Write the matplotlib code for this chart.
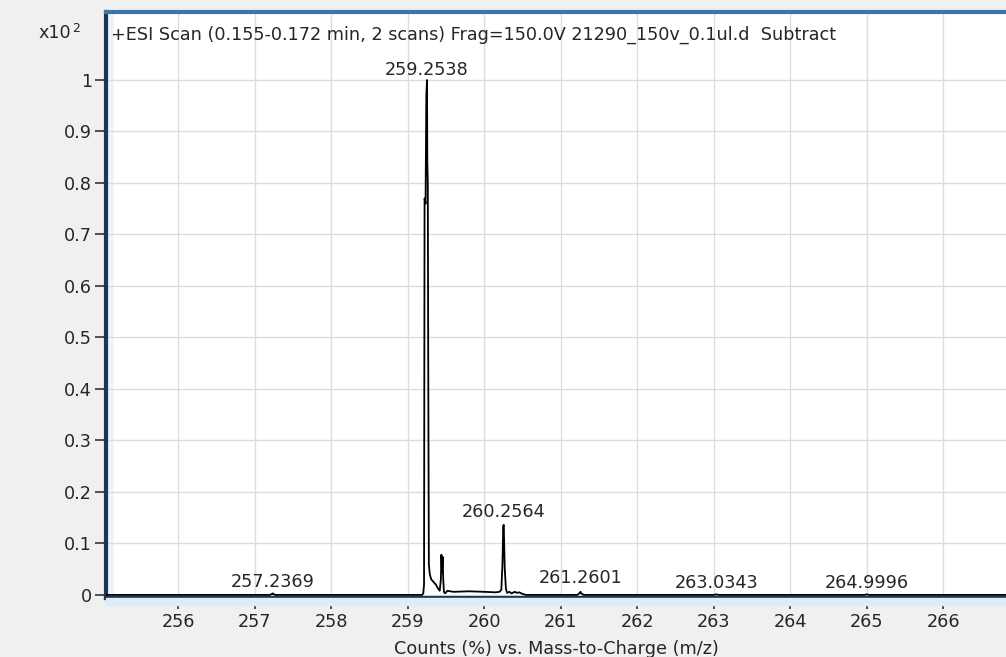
import matplotlib.pyplot as plt
from matplotlib.patches import Rectangle

# profile trace (m/z, counts x10^2 %)
mz = [255.06, 257.20, 257.23, 257.2369, 257.245, 257.27,
      259.19, 259.205, 259.215, 259.222, 259.235, 259.245, 259.2538, 259.258, 259.264, 259.27,
      259.278, 259.29, 259.31, 259.34, 259.37, 259.40, 259.42, 259.435, 259.442, 259.45,
      259.458, 259.466, 259.475, 259.49, 259.52, 259.60, 259.80, 260.00, 260.15, 260.20,
      260.225, 260.24, 260.25, 260.2564, 260.262, 260.27, 260.285, 260.30, 260.33, 260.36,
      260.40, 260.43, 260.46, 260.50, 260.55,
      261.22, 261.25, 261.2601, 261.27, 261.30,
      263.00, 263.0343, 263.07, 264.97, 264.9996, 265.03, 266.84]
counts = [0.0, 0.0, 0.002, 0.003, 0.002, 0.0,
          0.0, 0.003, 0.02, 0.77, 0.76, 0.97, 1.0, 0.84, 0.80, 0.45,
          0.06, 0.04, 0.03, 0.025, 0.02, 0.012, 0.008, 0.03, 0.078, 0.045,
          0.074, 0.03, 0.006, 0.003, 0.008, 0.006, 0.007, 0.006, 0.005, 0.006,
          0.01, 0.06, 0.134, 0.136, 0.10, 0.05, 0.012, 0.004, 0.006, 0.003,
          0.006, 0.004, 0.005, 0.002, 0.0,
          0.0, 0.004, 0.006, 0.003, 0.0,
          0.0, 0.001, 0.0, 0.0, 0.001, 0.0, 0.0]

peak_mz = [257.2369, 259.2538, 260.2564, 261.2601, 263.0343, 264.9996]
peak_lab = ["257.2369", "259.2538", "260.2564", "261.2601", "263.0343", "264.9996"]
lab_y = [0.025, 1.019, 0.161, 0.033, 0.023, 0.023]

xticks = list(range(256, 267))
yticks = [0, 0.1, 0.2, 0.3, 0.4, 0.5, 0.6, 0.7, 0.8, 0.9, 1.0]

plt.rcParams['font.family'] = ['DejaVu Sans']
FS = 12.7
TXT = "#262626"
fig = plt.figure(figsize=(10.06, 6.57), dpi=100, facecolor="#f0f0f0")
W, H = 1006, 657
ax = fig.add_axes([106 / W, 1 - 598 / H, 1 - 106 / W, (598 - 12) / H])

# pale blue strip under the x axis
fig.patches.append(Rectangle((106 / W, 1 - 605 / H), 1, 7 / H, transform=fig.transFigure,
                             color="#dcecf8", zorder=0))
ax.set_facecolor("white")
ax.set_xlim(255.059, 266.82)
ax.set_ylim(-0.006, (595 - 12) / 515)

ax.grid(True, color="#dcdcdc", linewidth=1)
ax.set_axisbelow(True)
ax.axvspan(255.059, 255.059 + 8 / 76.5, color="#eaf5fc", zorder=0.5, lw=0)

ax.plot(mz, counts, color="black", linewidth=1.3, zorder=3)

for m, t, yy in zip(peak_mz, peak_lab, lab_y):
    ax.text(m, yy, t, ha="center", va="center", fontsize=FS, color=TXT, zorder=4)

ax.text(0.006, 0.977, "+ESI Scan (0.155-0.172 min, 2 scans) Frag=150.0V 21290_150v_0.1ul.d  Subtract",
        transform=ax.transAxes, ha="left", va="top", fontsize=FS, color=TXT)

ax.set_xticks(xticks)
ax.set_yticks(yticks)
ax.set_yticklabels(["%g" % v for v in yticks])
ax.tick_params(axis="both", direction="out", length=8, width=1.2, color="#333333",
               labelsize=FS, labelcolor=TXT, pad=2)
ax.tick_params(axis="x", pad=3)

ax.spines["right"].set_visible(False)
ax.spines["left"].set_color("#1c3550")
ax.spines["left"].set_linewidth(3)
ax.spines["bottom"].set_color("#1c3550")
ax.spines["bottom"].set_linewidth(3)
ax.spines["top"].set_color("#3f74a6")
ax.spines["top"].set_linewidth(3)

ax.set_xlabel("Counts (%) vs. Mass-to-Charge (m/z)", fontsize=FS, color=TXT, labelpad=6)

fig.text(38 / W, 1 - 33 / H, "x10", fontsize=FS, color=TXT, va="center", ha="left")
fig.text(72 / W, 1 - 29 / H, "2", fontsize=9, color=TXT, va="center", ha="left")

fig.savefig("out.png", dpi=100, facecolor=fig.get_facecolor())
